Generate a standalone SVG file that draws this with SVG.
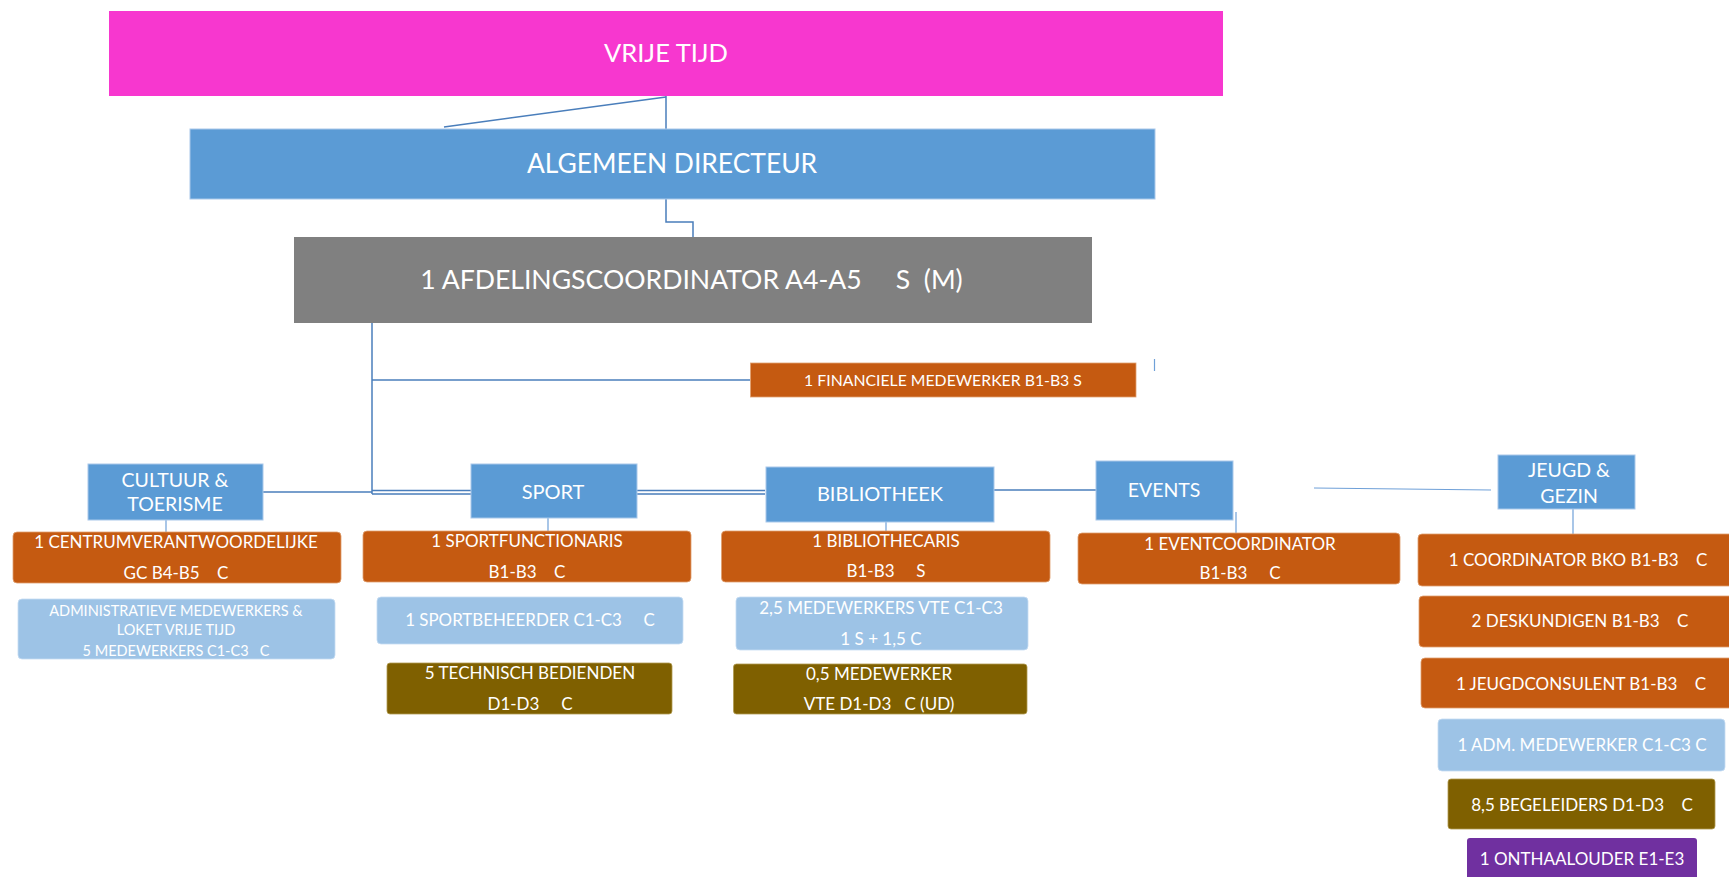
<svg xmlns="http://www.w3.org/2000/svg" width="1729" height="877" viewBox="0 0 1729 877">
<style>
text{font-family:Lato,"Open Sans","Liberation Sans",sans-serif;fill:#fff;text-anchor:middle;white-space:pre}
.pink{fill:#f737cf}
.blue{fill:#5b9bd5;stroke:#a9c8ea;stroke-width:1}
.gray{fill:#808080}
.or{fill:#c55a11;stroke:#e0a070;stroke-width:0.8}
.lb{fill:#9dc3e6;stroke:#c5dcf2;stroke-width:0.8}
.ol{fill:#7f6000;stroke:#b09a50;stroke-width:0.8}
.pu{fill:#7030a0}
.c{fill:none;stroke:#4a7ebb;stroke-width:1.5}
.cs{fill:none;stroke:#6fa0d8;stroke-width:1.2}
.f16{font-size:16px}.f17{font-size:17px}.f14{font-size:14.5px}.f18{font-size:17px}.f20{font-size:20px}
</style>
<rect width="1729" height="877" fill="#fff"/>
<g id="connectors">
<path class="c" d="M666 96V129"/>
<path class="c" d="M666 97L444 127"/>
<path class="c" d="M666 199V222H693V237"/>
<path class="c" d="M372 323V494"/>
<path class="c" d="M372 380H750"/>
<path class="cs" d="M1154.5 359V371"/>
<path class="c" d="M263 492H372"/>
<path class="c" d="M372 490.5H471M372 494H471"/>
<path class="c" d="M637 490.5H765M637 494H765"/>
<path class="c" d="M994 490H1096"/>
<path class="cs" d="M1314 488L1491 490"/>
<path class="cs" d="M166 520V532"/>
<path class="cs" d="M548 518V531"/>
<path class="cs" d="M886 522V531"/>
<path class="cs" d="M1236 512V533"/>
<path class="cs" d="M1573 509V534"/>
</g>
<g id="vrije-tijd"><rect class="pink" x="109" y="11" width="1114" height="85"/><text x="666" y="61.5" style="font-size:25.5px">VRIJE TIJD</text></g>
<g id="algemeen-directeur"><rect class="blue" x="190" y="129" width="965" height="70"/><text x="672" y="172.5" style="font-size:26.4px">ALGEMEEN DIRECTEUR</text></g>
<g id="afdelingscoordinator"><rect class="gray" x="294" y="237" width="798" height="86"/><text x="691.5" y="288.5" style="font-size:26.6px">1 AFDELINGSCOORDINATOR A4-A5     S  (M)</text></g>
<g id="financiele-medewerker"><rect class="or" x="750.5" y="363" width="385.5" height="34"/><text x="943" y="385.5" style="font-size:15.8px">1 FINANCIELE MEDEWERKER B1-B3 S</text></g>
<g id="cultuur"><rect class="blue" x="88" y="464" width="175" height="56"/><text x="175" y="486.5" style="font-size:19.5px">CULTUUR &amp;</text><text x="175" y="510.5" style="font-size:19.5px">TOERISME</text></g>
<g id="sport"><rect class="blue" x="471" y="464" width="166" height="54"/><text class="f20" x="553" y="499">SPORT</text></g>
<g id="bibliotheek"><rect class="blue" x="766" y="467" width="228" height="55"/><text class="f20" x="880" y="501">BIBLIOTHEEK</text></g>
<g id="events"><rect class="blue" x="1096" y="461" width="137" height="59"/><text x="1164" y="496.5" style="font-size:19.5px">EVENTS</text></g>
<g id="jeugd"><rect class="blue" x="1498" y="455" width="137" height="54"/><text x="1569" y="477" style="font-size:19.5px">JEUGD &amp;</text><text x="1569" y="503" style="font-size:19.5px">GEZIN</text></g>
<g id="centrumverantwoordelijke"><rect class="or" x="13" y="532" width="328" height="51" rx="4"/><text class="f17" x="176" y="548">1 CENTRUMVERANTWOORDELIJKE</text><text class="f17" x="176" y="579">GC B4-B5    C</text></g>
<g id="admin-medewerkers"><rect class="lb" x="18" y="599" width="317" height="60" rx="4"/><text class="f14" x="176" y="615.5">ADMINISTRATIEVE MEDEWERKERS &amp;</text><text class="f14" x="176" y="635">LOKET VRIJE TIJD</text><text class="f14" x="176" y="655.5">5 MEDEWERKERS C1-C3   C</text></g>
<g id="sportfunctionaris"><rect class="or" x="363" y="531" width="328" height="51" rx="4"/><text class="f17" x="527" y="547">1 SPORTFUNCTIONARIS</text><text class="f17" x="527" y="577.5">B1-B3    C</text></g>
<g id="sportbeheerder"><rect class="lb" x="377" y="597" width="306" height="47" rx="4"/><text x="530" y="626" style="font-size:16.9px">1 SPORTBEHEERDER C1-C3     C</text></g>
<g id="technisch-bedienden"><rect class="ol" x="387" y="663" width="285" height="51" rx="3"/><text class="f17" x="530" y="679">5 TECHNISCH BEDIENDEN</text><text class="f17" x="530" y="710">D1-D3     C</text></g>
<g id="bibliothecaris"><rect class="or" x="721.5" y="531" width="328.5" height="51" rx="4"/><text class="f17" x="886" y="547">1 BIBLIOTHECARIS</text><text class="f17" x="886" y="577">B1-B3     S</text></g>
<g id="medewerkers-vte"><rect class="lb" x="736" y="597" width="292" height="53" rx="4"/><text class="f17" x="881" y="614">2,5 MEDEWERKERS VTE C1-C3</text><text class="f17" x="881" y="645">1 S + 1,5 C</text></g>
<g id="medewerker-ud"><rect class="ol" x="733.5" y="664" width="293.5" height="50" rx="3"/><text class="f17" x="879" y="680">0,5 MEDEWERKER</text><text class="f17" x="879" y="710">VTE D1-D3   C (UD)</text></g>
<g id="eventcoordinator"><rect class="or" x="1078" y="533" width="322" height="51" rx="4"/><text class="f17" x="1240" y="550">1 EVENTCOORDINATOR</text><text class="f17" x="1240" y="579">B1-B3     C</text></g>
<g id="coordinator-bko"><rect class="or" x="1418" y="534" width="330" height="52" rx="4"/><text class="f18" x="1578" y="566">1 COORDINATOR BKO B1-B3    C</text></g>
<g id="deskundigen"><rect class="or" x="1419" y="596" width="330" height="51" rx="4"/><text class="f18" x="1580" y="627">2 DESKUNDIGEN B1-B3    C</text></g>
<g id="jeugdconsulent"><rect class="or" x="1421" y="658" width="330" height="50" rx="4"/><text class="f18" x="1581" y="689.5">1 JEUGDCONSULENT B1-B3    C</text></g>
<g id="adm-medewerker"><rect class="lb" x="1438" y="719" width="287" height="52" rx="4"/><text class="f18" x="1582" y="751">1 ADM. MEDEWERKER C1-C3 C</text></g>
<g id="begeleiders"><rect class="ol" x="1448" y="779" width="267" height="50" rx="3"/><text class="f18" x="1582" y="811">8,5 BEGELEIDERS D1-D3    C</text></g>
<g id="onthaalouder"><rect class="pu" x="1467" y="838" width="230" height="50" rx="3"/><text class="f18" x="1582" y="865">1 ONTHAALOUDER E1-E3</text></g>
</svg>
